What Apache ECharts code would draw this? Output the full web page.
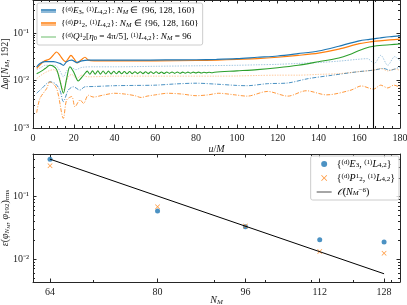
<!DOCTYPE html>
<html><head><meta charset="utf-8">
<script src="https://cdn.jsdelivr.net/npm/echarts@6/dist/echarts.min.js"></script>
<style>html,body{margin:0;padding:0;background:#fff}#c{width:407px;height:305px}</style>
</head><body><div id="c"></div>
<script>
// ---------- top panel data (u/M vs Δφ) ----------
const uBS = [1.8,3.4,5.9,10,13.2,14.9,16.5,19,21.4,23.9,27,35,50,65,80,90,100,110,120,130,140,150,160,165,167,170,175,180];
const vBS = [0.0195,0.023,0.025,0.025,0.023,0.021,0.025,0.027,0.024,0.026,0.027,0.027,0.027,0.0272,0.0275,0.028,0.029,0.031,0.033,0.037,0.042,0.053,0.069,0.074,0.076,0.079,0.084,0.088];
const uBL = [1.8,4,6,8.3,10.8,13.2,14.9,16.5,18.6,21,24,30,40,60,80,100,110,120,130,140,150,159,164,167.4,170.6,174,177.4,180];
const vBL = [0.017,0.019,0.021,0.021,0.021,0.016,0.012,0.016,0.019,0.017,0.019,0.0195,0.0195,0.020,0.0205,0.021,0.0215,0.022,0.023,0.024,0.0257,0.028,0.029,0.023,0.034,0.021,0.032,0.026];
const uBD = [1.8,4.3,8.3,10.8,13.2,14.9,17.3,19.8,23,25.5,30,40,50,60,70,80,90,100,105,115,125,135,147,159,167,172,175,180];
const vBD = [0.0054,0.0068,0.0094,0.0087,0.0063,0.0036,0.0063,0.0074,0.0063,0.0074,0.0075,0.0078,0.0079,0.008,0.0085,0.0088,0.0084,0.0079,0.0078,0.0086,0.0089,0.011,0.013,0.0153,0.0166,0.018,0.0165,0.0195];
const uOS = [1.8,5.1,8.3,10.8,11.6,13.2,14.9,16,17.3,18.6,20.1,21.7,23.9,25.5,27.1,30,40,60,80,90,100,110,120,130,140,150,160,165,167,170,175,180];
const vOS = [0.018,0.025,0.029,0.038,0.040,0.034,0.027,0.025,0.029,0.034,0.029,0.0237,0.028,0.031,0.027,0.026,0.026,0.026,0.0265,0.027,0.028,0.029,0.031,0.034,0.038,0.046,0.060,0.065,0.067,0.069,0.072,0.075];
const uOL = [1.8,4,6.7,10,12.4,14.9,17.3,19,21.4,23.9,27,40,60,90,100,110,120,130,140,150,159,167,170.6,174,177.4,180];
const vOL = [0.011,0.013,0.0153,0.017,0.014,0.0063,0.012,0.0135,0.011,0.013,0.012,0.0124,0.0124,0.0124,0.0125,0.0128,0.013,0.013,0.0135,0.014,0.0153,0.0166,0.018,0.016,0.0175,0.0165];
const uOD = [1.8,3.4,6.7,8.3,11.6,14.9,16.5,19,20.6,23.1,24.8,27.1,29.6,35,40,45,50,53,56,60,66,73,80,86,91,99,105,115,125,134,144,156,161,167,170.5,174,177,180];
const vOD = [0.0021,0.0042,0.0068,0.0094,0.0068,0.0016,0.0039,0.0046,0.0028,0.0039,0.0033,0.0049,0.0045,0.005,0.0054,0.0052,0.0048,0.0044,0.0047,0.005,0.0054,0.0052,0.0048,0.005,0.0054,0.005,0.0047,0.0059,0.0047,0.0061,0.005,0.0063,0.0077,0.0066,0.008,0.007,0.008,0.0072];
const uGQ = [1.8,4.3,6,8.3,10,11.6,13.2,14.9,16.5,18.1,20,22.2,
  24,25.3,26.6,27.9,29.2,30.5,31.8,33.1,34.4,35.7,37,38.3,39.6,40.9,42.2,43.5,44.8,46.1,47.4,48.7,50,51.3,52.6,53.9,55.2,56.5,57.8,59.1,60.4,61.7,63,64.3,65.6,66.9,68.2,69.5,70.8,72.1,73.4,74.7,76,77.3,78.6,79.9,81.2,82.5,83.8,85.1,86.4,87.7,89,
  100,110,120,130,140,150,155,160,165,167,170,175,180];
const vGQ = [0.014,0.016,0.018,0.021,0.020,0.017,0.010,0.0054,0.011,0.0195,0.015,0.0098,
  0.0118,0.0138,0.0158,0.0136,0.0160,0.0137,0.0160,0.0137,0.0159,0.0138,0.0158,0.0138,0.0157,0.0139,0.0156,0.0139,0.0155,0.0139,0.0155,0.0140,0.0154,0.0140,0.0154,0.0140,0.0153,0.0140,0.0153,0.0141,0.0153,0.0141,0.0152,0.0141,0.0152,0.0142,0.0152,0.0142,0.0152,0.0142,0.0151,0.0143,0.0151,0.0143,0.0151,0.0144,0.0151,0.0144,0.0150,0.0145,0.0150,0.0146,0.0150,
  0.016,0.017,0.0186,0.021,0.025,0.030,0.035,0.043,0.051,0.053,0.055,0.057,0.059];
const uMark = 167;
const topYTicks = [0.001,0.01,0.1];
const topYLabels = ['10⁻³','10⁻²','10⁻¹'];
const topYMinor = [0.002,0.003,0.004,0.005,0.006,0.007,0.008,0.009,0.02,0.03,0.04,0.05,0.06,0.07,0.08,0.09,0.2,0.3,0.4,0.5];

// ---------- bottom panel data (N_M vs error) ----------
const NM = [64,80,96,112,128];
const errE3 = [0.40,0.059,0.033,0.0203,0.0188];
const errP = [0.314,0.069,0.034,0.0132,0.0124];
const fitN = [64,128];
const fitV = [0.40,0.0058];
const botXMinor = [70,90,100,110,120,130];
const botYTicks = [0.01,0.1];
const botYLabels = ['10⁻²','10⁻¹'];
const botYMinor = [0.005,0.006,0.007,0.008,0.009,0.02,0.03,0.04,0.05,0.06,0.07,0.08,0.09,0.2,0.3,0.4];

const F = 'Liberation Serif';
const BLUE='#1f77b4', ORANGE='#ff7f0e', GREEN='#2ca02c', AX='#262626';
const zip = (a,b)=>a.map((x,i)=>[x,b[i]]);
function mkRich(fs, ss){ return {
  i:{fontFamily:F,fontStyle:'italic',fontSize:fs,color:'#000'},
  s:{fontFamily:F,fontSize:ss,verticalAlign:'top',color:'#000',padding:[0,0,3,0]},
  b:{fontFamily:F,fontSize:ss,verticalAlign:'bottom',color:'#000',padding:[3,0,0,0]},
  bi:{fontFamily:F,fontStyle:'italic',fontSize:ss,verticalAlign:'bottom',color:'#000',padding:[3,0,0,0]},
  bs:{fontFamily:F,fontSize:ss,verticalAlign:'top',color:'#000',padding:[0,0,3,0]}
};}
const legendText = {
  E3:'{{s|(d)}{i|E}{b|3}, {s|(1)}{i|L}{b|4,2}}: {i|N}{bi|M} ∈ {96, 128, 160}',
  P:'{{s|(d)}{i|P}{s|1}{b|2}, {s|(1)}{i|L}{b|4,2}}: {i|N}{bi|M} ∈ {96, 128, 160}',
  Q:'{{s|(d)}{i|Q}{s|1}{b|2}[{i|η}{b|0} = 4π/5], {s|(1)}{i|L}{b|4,2}}: {i|N}{bi|M} = 96',
  E3pts:'{{s|(d)}{i|E}{b|3}, {s|(1)}{i|L}{b|4,2}}',
  Ppts:'{{s|(d)}{i|P}{s|1}{b|2}, {s|(1)}{i|L}{b|4,2}}',
  fit:'{i|𝒪}({i|N}{bi|M}{bs|−6})'
};
const tri = 'path://M0,0H30V3H0Z M0,4.2H30V5.2H0Z M0,6.4H30V7.4H0Z';
const lineIcon = 'path://M0,0H30V1.4H0Z';

function ax(grid, extra){ return Object.assign({gridIndex:grid, axisLine:{show:true,lineStyle:{color:AX,width:1}}, splitLine:{show:false},
  axisTick:{show:true,inside:true,length:3.5,lineStyle:{color:AX}}, axisLabel:{show:false}}, extra); }
const lab = {show:true,fontFamily:F,fontSize:10,color:'#222',margin:5};
const nameRich = {i:{fontFamily:F,fontStyle:'italic',fontSize:10},bi:{fontFamily:F,fontStyle:'italic',fontSize:7,verticalAlign:'bottom',padding:[4,0,0,0]},
  bb:{fontFamily:F,fontStyle:'italic',fontSize:5,verticalAlign:'bottom',padding:[6,0,0,0]},b:{fontFamily:F,fontSize:7,verticalAlign:'bottom',padding:[4,0,0,0]}};

const option = {
  animation:false,
  grid:[{left:33,top:0,width:367,height:128,outerBoundsMode:'none',containLabel:false},
        {left:33,top:154,width:367,height:128,outerBoundsMode:'none',containLabel:false}],
  xAxis:[
    ax(0,{type:'value',min:0,max:180,interval:20,position:'bottom',axisLabel:lab,
      minorTick:{show:true,splitNumber:5,length:2,lineStyle:{color:AX}},
      name:'{i|u}/{i|M}',nameLocation:'middle',nameGap:16,nameMoveOverlap:false,nameTextStyle:{fontFamily:F,fontSize:10,color:'#222',rich:nameRich}}),
    ax(0,{type:'value',min:0,max:180,interval:20,position:'top',minorTick:{show:true,splitNumber:5,length:2,lineStyle:{color:AX}}}),
    ax(1,{type:'log',min:61.78,max:132.3,position:'bottom',
      axisLabel:Object.assign({customValues:NM},lab),
      axisTick:{show:true,inside:true,length:3.5,customValues:NM,lineStyle:{color:AX}},
      name:'{i|N}{bi|M}',nameLocation:'middle',nameGap:13,nameMoveOverlap:false,nameTextStyle:{fontFamily:F,fontSize:10,color:'#222',rich:nameRich}}),
    ax(1,{type:'log',min:61.78,max:132.3,position:'bottom',axisLine:{show:false},axisTick:{show:true,inside:true,length:2,customValues:botXMinor,lineStyle:{color:AX}}}),
    ax(1,{type:'log',min:61.78,max:132.3,position:'top',axisTick:{show:true,inside:true,length:3.5,customValues:NM,lineStyle:{color:AX}}}),
    ax(1,{type:'log',min:61.78,max:132.3,position:'top',axisLine:{show:false},axisTick:{show:true,inside:true,length:2,customValues:botXMinor,lineStyle:{color:AX}}})
  ],
  yAxis:[
    ax(0,{type:'log',min:0.001,max:0.5,position:'left',
      axisLabel:Object.assign({},lab,{margin:4,customValues:topYTicks,formatter:v=>topYLabels[topYTicks.findIndex(t=>Math.abs(t-v)/t<1e-6)]||''}),
      axisTick:{show:true,inside:true,length:3.5,customValues:topYTicks,lineStyle:{color:AX}},
      name:'Δ{i|φ}[{i|N}{bi|M}, 192]',nameLocation:'middle',nameGap:22,nameRotate:90,nameMoveOverlap:false,
      nameTextStyle:{fontFamily:F,fontSize:10,color:'#222',rich:nameRich}}),
    ax(0,{type:'log',min:0.001,max:0.5,position:'left',axisLine:{show:false},axisTick:{show:true,inside:true,length:2,customValues:topYMinor,lineStyle:{color:AX}}}),
    ax(0,{type:'log',min:0.001,max:0.5,position:'right',axisTick:{show:true,inside:true,length:3.5,customValues:topYTicks,lineStyle:{color:AX}}}),
    ax(0,{type:'log',min:0.001,max:0.5,position:'right',axisLine:{show:false},axisTick:{show:true,inside:true,length:2,customValues:topYMinor,lineStyle:{color:AX}}}),
    ax(1,{type:'log',min:0.00428,max:0.484,position:'left',
      axisLabel:Object.assign({},lab,{margin:4,customValues:botYTicks,formatter:v=>botYLabels[botYTicks.findIndex(t=>Math.abs(t-v)/t<1e-6)]||''}),
      axisTick:{show:true,inside:true,length:3.5,customValues:botYTicks,lineStyle:{color:AX}},
      name:'{i|ε}({i|φ}{bi|N}{bb|M}, {i|φ}{b|192}){b|rms}',nameLocation:'middle',nameGap:22,nameRotate:90,nameMoveOverlap:false,
      nameTextStyle:{fontFamily:F,fontSize:10,color:'#222',rich:nameRich}}),
    ax(1,{type:'log',min:0.00428,max:0.484,position:'left',axisLine:{show:false},axisTick:{show:true,inside:true,length:2,customValues:botYMinor,lineStyle:{color:AX}}}),
    ax(1,{type:'log',min:0.00428,max:0.484,position:'right',axisTick:{show:true,inside:true,length:3.5,customValues:botYTicks,lineStyle:{color:AX}}}),
    ax(1,{type:'log',min:0.00428,max:0.484,position:'right',axisLine:{show:false},axisTick:{show:true,inside:true,length:2,customValues:botYMinor,lineStyle:{color:AX}}})
  ],
  legend:[
    {left:37,top:3,orient:'vertical',itemGap:3,itemWidth:15,itemHeight:6,padding:[3,4,3,4],
     borderColor:'#ccc',borderWidth:1,borderRadius:2,backgroundColor:'rgba(255,255,255,0.8)',
     data:[{name:'E3',icon:tri},{name:'P',icon:tri},{name:'Q',icon:lineIcon}],
     formatter:n=>legendText[n],textStyle:{fontFamily:F,fontSize:9.2,color:'#000',rich:mkRich(9.2,6.5)}},
    {right:8,top:156,orient:'vertical',itemGap:4,itemWidth:15,itemHeight:6,padding:[3,4,3,6],
     borderColor:'#ccc',borderWidth:1,borderRadius:2,backgroundColor:'rgba(255,255,255,0.8)',
     data:['E3pts','Ppts',{name:'fit',icon:lineIcon}],
     formatter:n=>legendText[n],textStyle:{fontFamily:F,fontSize:10,color:'#000',rich:mkRich(10,7)}}
  ],
  series:[
    {name:'bD',type:'line',xAxisIndex:0,yAxisIndex:0,data:zip(uBD,vBD),showSymbol:false,smooth:0.3,lineStyle:{color:BLUE,width:0.9,type:[4,1.5,1,1.5],opacity:0.9}},
    {name:'bL',type:'line',xAxisIndex:0,yAxisIndex:0,data:zip(uBL,vBL),showSymbol:false,smooth:0.3,lineStyle:{color:BLUE,width:0.9,type:[1.5,1.2],opacity:0.45}},
    {name:'oD',type:'line',xAxisIndex:0,yAxisIndex:0,data:zip(uOD,vOD),showSymbol:false,smooth:0.3,lineStyle:{color:ORANGE,width:0.9,type:[4,1.5,1,1.5],opacity:0.9}},
    {name:'oL',type:'line',xAxisIndex:0,yAxisIndex:0,data:zip(uOL,vOL),showSymbol:false,smooth:0.3,lineStyle:{color:ORANGE,width:0.9,type:[1.5,1.2],opacity:0.45}},
    {name:'Q',type:'line',xAxisIndex:0,yAxisIndex:0,data:zip(uGQ,vGQ),showSymbol:false,smooth:0.3,itemStyle:{color:GREEN},lineStyle:{color:GREEN,width:1.1}},
    {name:'P',type:'line',xAxisIndex:0,yAxisIndex:0,data:zip(uOS,vOS),showSymbol:false,smooth:0.3,itemStyle:{color:ORANGE},lineStyle:{color:ORANGE,width:1.2}},
    {name:'E3',type:'line',xAxisIndex:0,yAxisIndex:0,data:zip(uBS,vBS),showSymbol:false,smooth:0.3,itemStyle:{color:BLUE},lineStyle:{color:BLUE,width:1.2},
      markLine:{silent:true,symbol:'none',label:{show:false},lineStyle:{color:'#000',width:1.1,type:'solid'},data:[{xAxis:uMark}]}},
    {name:'fit',type:'line',xAxisIndex:2,yAxisIndex:4,data:zip(fitN,fitV),showSymbol:false,itemStyle:{color:'#000'},lineStyle:{color:'#000',width:1}},
    {name:'E3pts',type:'scatter',xAxisIndex:2,yAxisIndex:4,data:zip(NM,errE3),symbol:'circle',symbolSize:5,itemStyle:{color:BLUE}},
    {name:'Ppts',type:'scatter',xAxisIndex:2,yAxisIndex:4,data:zip(NM,errP),symbol:'path://M0,1L1,0L5,4L9,0L10,1L6,5L10,9L9,10L5,6L1,10L0,9L4,5Z',symbolSize:5,itemStyle:{color:ORANGE}}
  ]
};
echarts.init(document.getElementById('c'),null,{renderer:'canvas'}).setOption(option);
</script></body></html>
